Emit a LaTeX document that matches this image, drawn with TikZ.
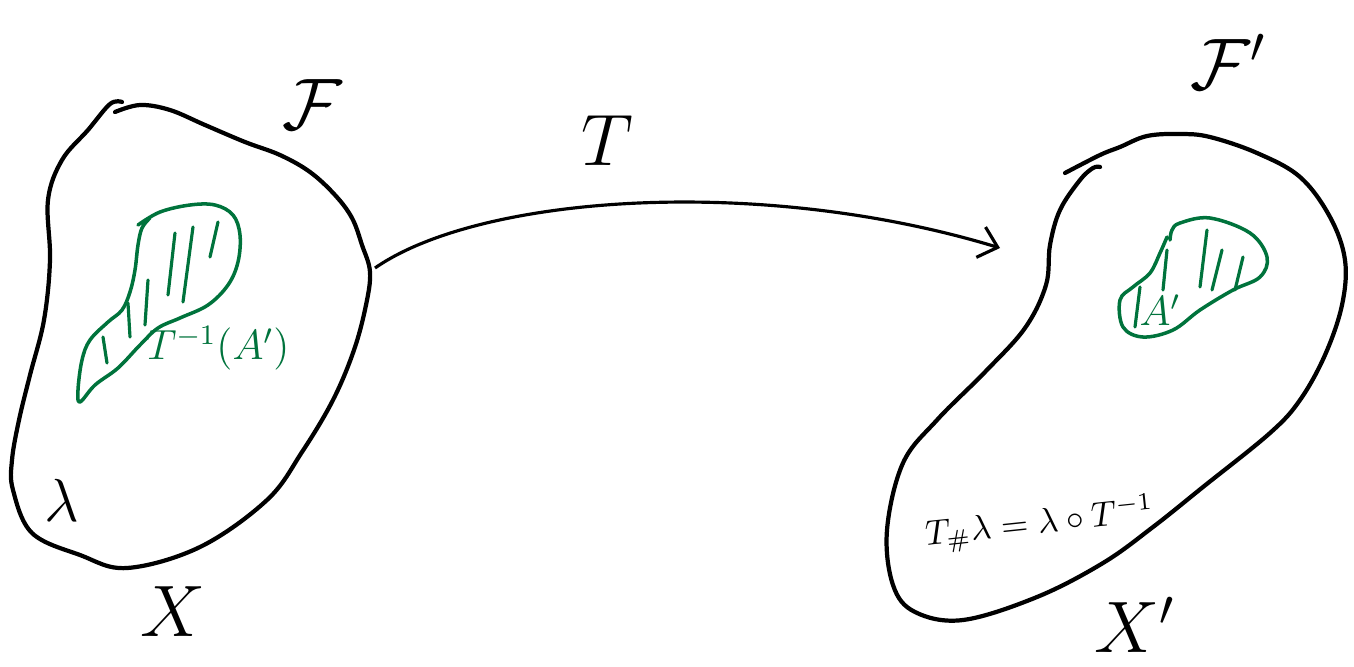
\documentclass[tikz,border=0pt]{standalone}
\usepackage{xcolor}
\usepackage{tikz}
\usetikzlibrary{arrows.meta}

\definecolor{penGreen}{RGB}{0,115,60}

\begin{document}
\begin{tikzpicture}[x=0.01cm, y=-0.01cm,
  blob/.style={draw, line width=1.2pt, line cap=round, line join=round},
  region/.style={draw=penGreen, line width=1pt, line cap=round, line join=round},
  hatch/.style={draw=penGreen, line width=0.9pt, line cap=round},
  arr/.style={-{Straight Barb[length=5pt, width=9pt]}, line width=0.9pt},
  lbl/.style={font=\huge},
  glbl/.style={font=\large, text=penGreen}
]
  \useasboundingbox (0,0) rectangle (1354,666);

  % space X
  \draw[blob] plot[smooth, tension=0.6] coordinates {(115,112) (140,105) (170,110) (205,125) (245,142) (280,155) (310,172) (335,195) (352,218) (362,245) (370,272) (366,305) (354,350) (333,400) (302,452) (267,500) (200,547) (127,568) (80,555) (32,533) (13,490) (12,460) (19,420) (30,375) (44,320) (50,260) (48,200) (62,160) (88,130) (110,104) (122,102)};

  % preimage set
  \draw[region] plot[smooth, tension=0.6] coordinates {(138,225) (160,212) (190,205) (215,205) (233,215) (240,235) (238,262) (228,285) (208,305) (180,318) (158,328) (140,345) (118,368) (95,385) (80,402) (78,390) (82,360) (90,340) (108,322) (122,310) (130,292) (135,270) (138,245) (142,228) (150,218)};
  \foreach \xa/\ya/\xb/\yb in {218/222/210/257, 193/227/183/302, 175/233/168/295, 148/280/145/325, 128/303/130/337, 103/337/107/363}
    \draw[hatch] (\xa,\ya) -- (\xb,\yb);

  % space X'
  \draw[blob] plot[smooth, tension=0.6] coordinates {(1065,173) (1100,155) (1120,147) (1147,136) (1180,134) (1210,137) (1257,153) (1300,177) (1330,217) (1345,260) (1342,305) (1325,355) (1300,400) (1270,433) (1203,487) (1153,527) (1103,563) (1037,597) (963,620) (915,612) (893,585) (887,530) (903,463) (937,420) (985,372) (1025,328) (1046,285) (1050,245) (1060,210) (1080,180) (1093,168) (1100,167)};

  % target set
  \draw[region] plot[smooth, tension=0.6] coordinates {(1170,240) (1172,230) (1180,223) (1210,218) (1250,233) (1267,257) (1260,277) (1233,290) (1200,310) (1173,330) (1143,337) (1123,327) (1120,300) (1133,287) (1150,273) (1160,253) (1167,237)};
  \foreach \xa/\ya/\xb/\yb in {1207/230/1200/287, 1222/250/1212/290, 1243/257/1235/290, 1167/250/1163/290, 1140/287/1135/327}
    \draw[hatch] (\xa,\ya) -- (\xb,\yb);

  % the map
  \coordinate (tstart) at (375,268);
  \coordinate (tend) at (1000,248);
  \draw[arr] (tstart) .. controls (480,195) and (760,175) .. (tend);

  % labels
  \node[lbl] (tlbl) at (607,141) {$T$};
  \node[lbl] (sig) at (312,105) {$\mathcal{F}$};
  \node[lbl] (sigp) at (1228,62) {$\mathcal{F}'$};
  \node[lbl] (xlbl) at (173,612) {$X$};
  \node[lbl] (xplbl) at (1135,625) {$X'$};
  \node[font=\LARGE] (lam) at (62,500) {$\lambda$};
  \node[glbl] (pre) at (218,348) {$T^{-1}(A')$};
  \node[glbl] (aset) at (1160,310) {$A'$};
  \node[font=\normalsize, rotate=6] (push) at (1040,524) {$T_{\#}\lambda=\lambda\circ T^{-1}$};
\end{tikzpicture}
\end{document}
